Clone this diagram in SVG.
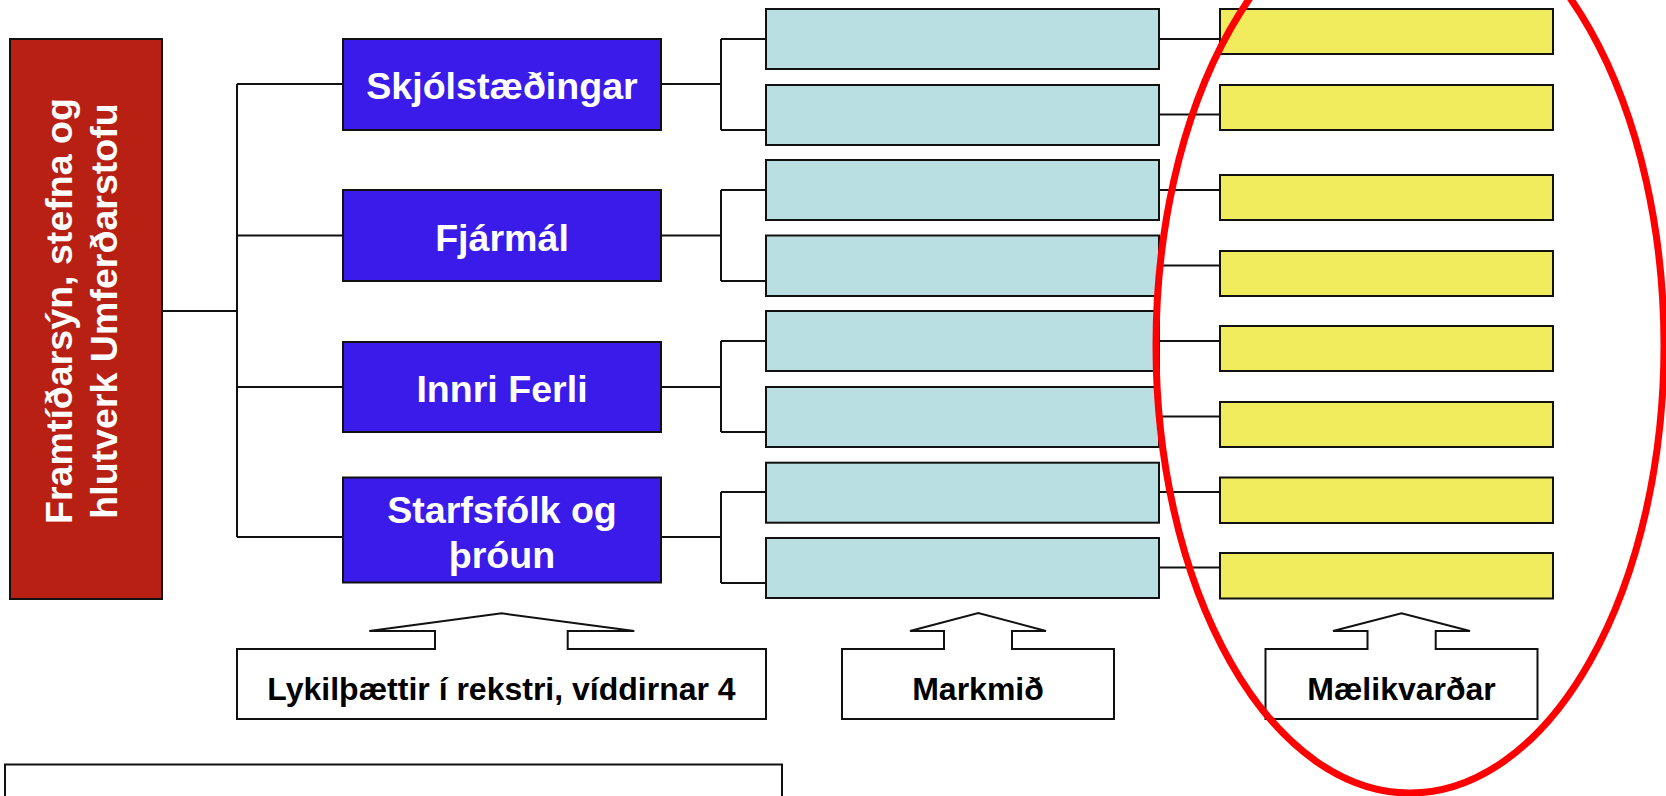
<svg xmlns="http://www.w3.org/2000/svg" width="1666" height="796" viewBox="0 0 1666 796">
<style>
.box{stroke:#111;stroke-width:2}
.red{fill:#B82014}
.blue{fill:#3A1BEA}
.teal{fill:#BADFE2}
.yel{fill:#F0EC5E}
.wh{fill:#fff}
.ln{fill:none;stroke:#111;stroke-width:2}
.t{font-family:"Liberation Sans",Arial,sans-serif;font-weight:bold;text-anchor:middle}
.tw{fill:#fff;font-size:37.6px}
.tb{fill:#000;font-size:32px}
</style>
<rect width="1666" height="796" fill="#fff"/>
<g id="connectors">
<path class="ln" d="M162,311H237M237,84V537M237,84H343M237,235.5H343M237,387H343M237,537H343"/>
<path class="ln" d="M661,84H721M721,39V130M721,39H766M721,130H766"/>
<path class="ln" d="M661,235.5H721M721,190V281M721,190H766M721,281H766"/>
<path class="ln" d="M661,387H721M721,341V432M721,341H766M721,432H766"/>
<path class="ln" d="M661,537H721M721,492V583M721,492H766M721,583H766"/>
<path class="ln" d="M1159,39H1220M1159,114.5H1220M1159,190H1220M1159,265.5H1220M1159,341H1220M1159,416.5H1220M1159,492H1220M1159,567.5H1220"/>
</g>
<g id="root">
<rect class="box red" x="10" y="39" width="152" height="560"/>
<text class="t tw" transform="translate(72,311) rotate(-90)">Framtíðarsýn, stefna og</text>
<text class="t tw" transform="translate(117,311) rotate(-90)">hlutverk Umferðarstofu</text>
</g>
<g id="dim1"><rect class="box blue" x="343" y="39" width="318" height="91"/><text class="t tw" x="502" y="99">Skjólstæðingar</text></g>
<g id="dim2"><rect class="box blue" x="343" y="190" width="318" height="91"/><text class="t tw" x="502" y="250.5">Fjármál</text></g>
<g id="dim3"><rect class="box blue" x="343" y="342" width="318" height="90"/><text class="t tw" x="502" y="401.5">Innri Ferli</text></g>
<g id="dim4"><rect class="box blue" x="343" y="477.5" width="318" height="105"/><text class="t tw" x="502" y="523.3">Starfsfólk og</text><text class="t tw" x="502" y="568.3">þróun</text></g>
<g id="goal1"><rect class="box teal" x="766" y="9" width="393" height="60"/></g>
<g id="goal2"><rect class="box teal" x="766" y="85" width="393" height="60"/></g>
<g id="goal3"><rect class="box teal" x="766" y="160" width="393" height="60"/></g>
<g id="goal4"><rect class="box teal" x="766" y="235.5" width="393" height="60.5"/></g>
<g id="goal5"><rect class="box teal" x="766" y="311" width="393" height="60"/></g>
<g id="goal6"><rect class="box teal" x="766" y="387" width="393" height="60"/></g>
<g id="goal7"><rect class="box teal" x="766" y="462.7" width="393" height="60"/></g>
<g id="goal8"><rect class="box teal" x="766" y="538" width="393" height="60"/></g>
<g id="m1"><rect class="box yel" x="1220" y="9" width="333" height="45"/></g>
<g id="m2"><rect class="box yel" x="1220" y="85" width="333" height="45"/></g>
<g id="m3"><rect class="box yel" x="1220" y="175" width="333" height="45"/></g>
<g id="m4"><rect class="box yel" x="1220" y="251" width="333" height="45"/></g>
<g id="m5"><rect class="box yel" x="1220" y="326" width="333" height="45"/></g>
<g id="m6"><rect class="box yel" x="1220" y="402" width="333" height="45"/></g>
<g id="m7"><rect class="box yel" x="1220" y="477.5" width="333" height="45.5"/></g>
<g id="m8"><rect class="box yel" x="1220" y="553" width="333" height="45.5"/></g>
<g id="label1">
<path class="box wh" d="M237,649H435V631H369.3L501.7,613.3L634.3,631H567.7V649H766V719H237Z"/>
<text class="t tb" x="501.5" y="699.5">Lykilþættir í rekstri, víddirnar 4</text>
</g>
<g id="label2">
<path class="box wh" d="M842,649H944V631H910L978.3,613L1046,631H1012V649H1114V719H842Z"/>
<text class="t tb" x="978" y="699.5">Markmið</text>
</g>
<g id="label3">
<path class="box wh" d="M1265.5,649H1367.5V631H1333L1401.5,613.3L1470,631H1435.7V649H1537.5V719H1265.5Z"/>
<text class="t tb" x="1401.5" y="699.5">Mælikvarðar</text>
</g>
<g id="note"><rect class="box wh" x="5" y="764.5" width="777" height="50"/></g>
<g id="highlight"><ellipse cx="1410" cy="345.5" rx="254" ry="447.5" fill="none" stroke="#FF0000" stroke-width="7"/></g>
</svg>
